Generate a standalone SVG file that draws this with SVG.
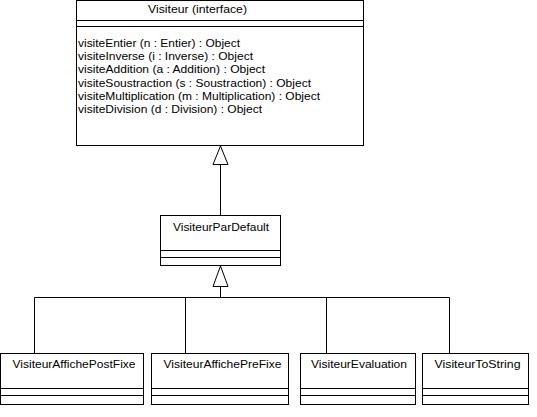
<svg xmlns="http://www.w3.org/2000/svg" width="537" height="417" viewBox="0 0 537 417">
<style>
.box{fill:#fff;stroke:#000;stroke-width:1}
.ln{stroke:#000;stroke-width:1;fill:none}
.tri{fill:#fff;stroke:#000;stroke-width:1}
text{font-family:"Liberation Sans",Arial,sans-serif;font-size:11px;fill:#000}
</style>
<rect width="537" height="417" fill="#fff"/>
<g id="connectors">
<polyline class="ln" points="220.5,164.5 220.5,215.5"/>
<polygon class="tri" points="220.5,146 213,164.5 228,164.5"/>
<polyline class="ln" points="220.5,286.5 220.5,297.5"/>
<polygon class="tri" points="220.5,266 213,286.5 228,286.5"/>
<polyline class="ln" points="34.5,353.5 34.5,297.5 449.5,297.5 449.5,353.5"/>
<polyline class="ln" points="185.5,297.5 185.5,353.5"/>
<polyline class="ln" points="326.5,297.5 326.5,353.5"/>
</g>
<g id="Visiteur">
<rect class="box" x="76.5" y="0.5" width="287" height="145"/>
<line class="ln" x1="76.5" y1="20.5" x2="363.5" y2="20.5"/>
<line class="ln" x1="76.5" y1="26.5" x2="363.5" y2="26.5"/>
<text x="148" y="13" textLength="99" lengthAdjust="spacingAndGlyphs">Visiteur (interface)</text>
<text x="78" y="47" textLength="162" lengthAdjust="spacingAndGlyphs">visiteEntier (n : Entier) : Object</text>
<text x="78" y="60" textLength="175" lengthAdjust="spacingAndGlyphs">visiteInverse (i : Inverse) : Object</text>
<text x="78" y="73" textLength="187" lengthAdjust="spacingAndGlyphs">visiteAddition (a : Addition) : Object</text>
<text x="78" y="86.5" textLength="233" lengthAdjust="spacingAndGlyphs">visiteSoustraction (s : Soustraction) : Object</text>
<text x="78" y="100" textLength="242" lengthAdjust="spacingAndGlyphs">visiteMultiplication (m : Multiplication) : Object</text>
<text x="78" y="113" textLength="184" lengthAdjust="spacingAndGlyphs">visiteDivision (d : Division) : Object</text>
</g>
<g id="VisiteurParDefault">
<rect class="box" x="160.5" y="215.5" width="120" height="50"/>
<line class="ln" x1="160.5" y1="250.5" x2="280.5" y2="250.5"/>
<line class="ln" x1="160.5" y1="257.5" x2="280.5" y2="257.5"/>
<text x="173" y="231" textLength="96" lengthAdjust="spacingAndGlyphs">VisiteurParDefault</text>
</g>
<g id="VisiteurAffichePostFixe">
<rect class="box" x="0.5" y="353.5" width="143" height="51"/>
<line class="ln" x1="0.5" y1="388.5" x2="143.5" y2="388.5"/>
<line class="ln" x1="0.5" y1="395.5" x2="143.5" y2="395.5"/>
<text x="12.5" y="368" textLength="123" lengthAdjust="spacingAndGlyphs">VisiteurAffichePostFixe</text>
</g>
<g id="VisiteurAffichePreFixe">
<rect class="box" x="151.5" y="353.5" width="137" height="51"/>
<line class="ln" x1="151.5" y1="388.5" x2="288.5" y2="388.5"/>
<line class="ln" x1="151.5" y1="395.5" x2="288.5" y2="395.5"/>
<text x="163.5" y="368" textLength="118" lengthAdjust="spacingAndGlyphs">VisiteurAffichePreFixe</text>
</g>
<g id="VisiteurEvaluation">
<rect class="box" x="300.5" y="353.5" width="115" height="51"/>
<line class="ln" x1="300.5" y1="388.5" x2="415.5" y2="388.5"/>
<line class="ln" x1="300.5" y1="395.5" x2="415.5" y2="395.5"/>
<text x="311" y="368" textLength="96" lengthAdjust="spacingAndGlyphs">VisiteurEvaluation</text>
</g>
<g id="VisiteurToString">
<rect class="box" x="422.5" y="353.5" width="106" height="51"/>
<line class="ln" x1="422.5" y1="388.5" x2="528.5" y2="388.5"/>
<line class="ln" x1="422.5" y1="395.5" x2="528.5" y2="395.5"/>
<text x="434.5" y="368" textLength="86" lengthAdjust="spacingAndGlyphs">VisiteurToString</text>
</g>
</svg>
